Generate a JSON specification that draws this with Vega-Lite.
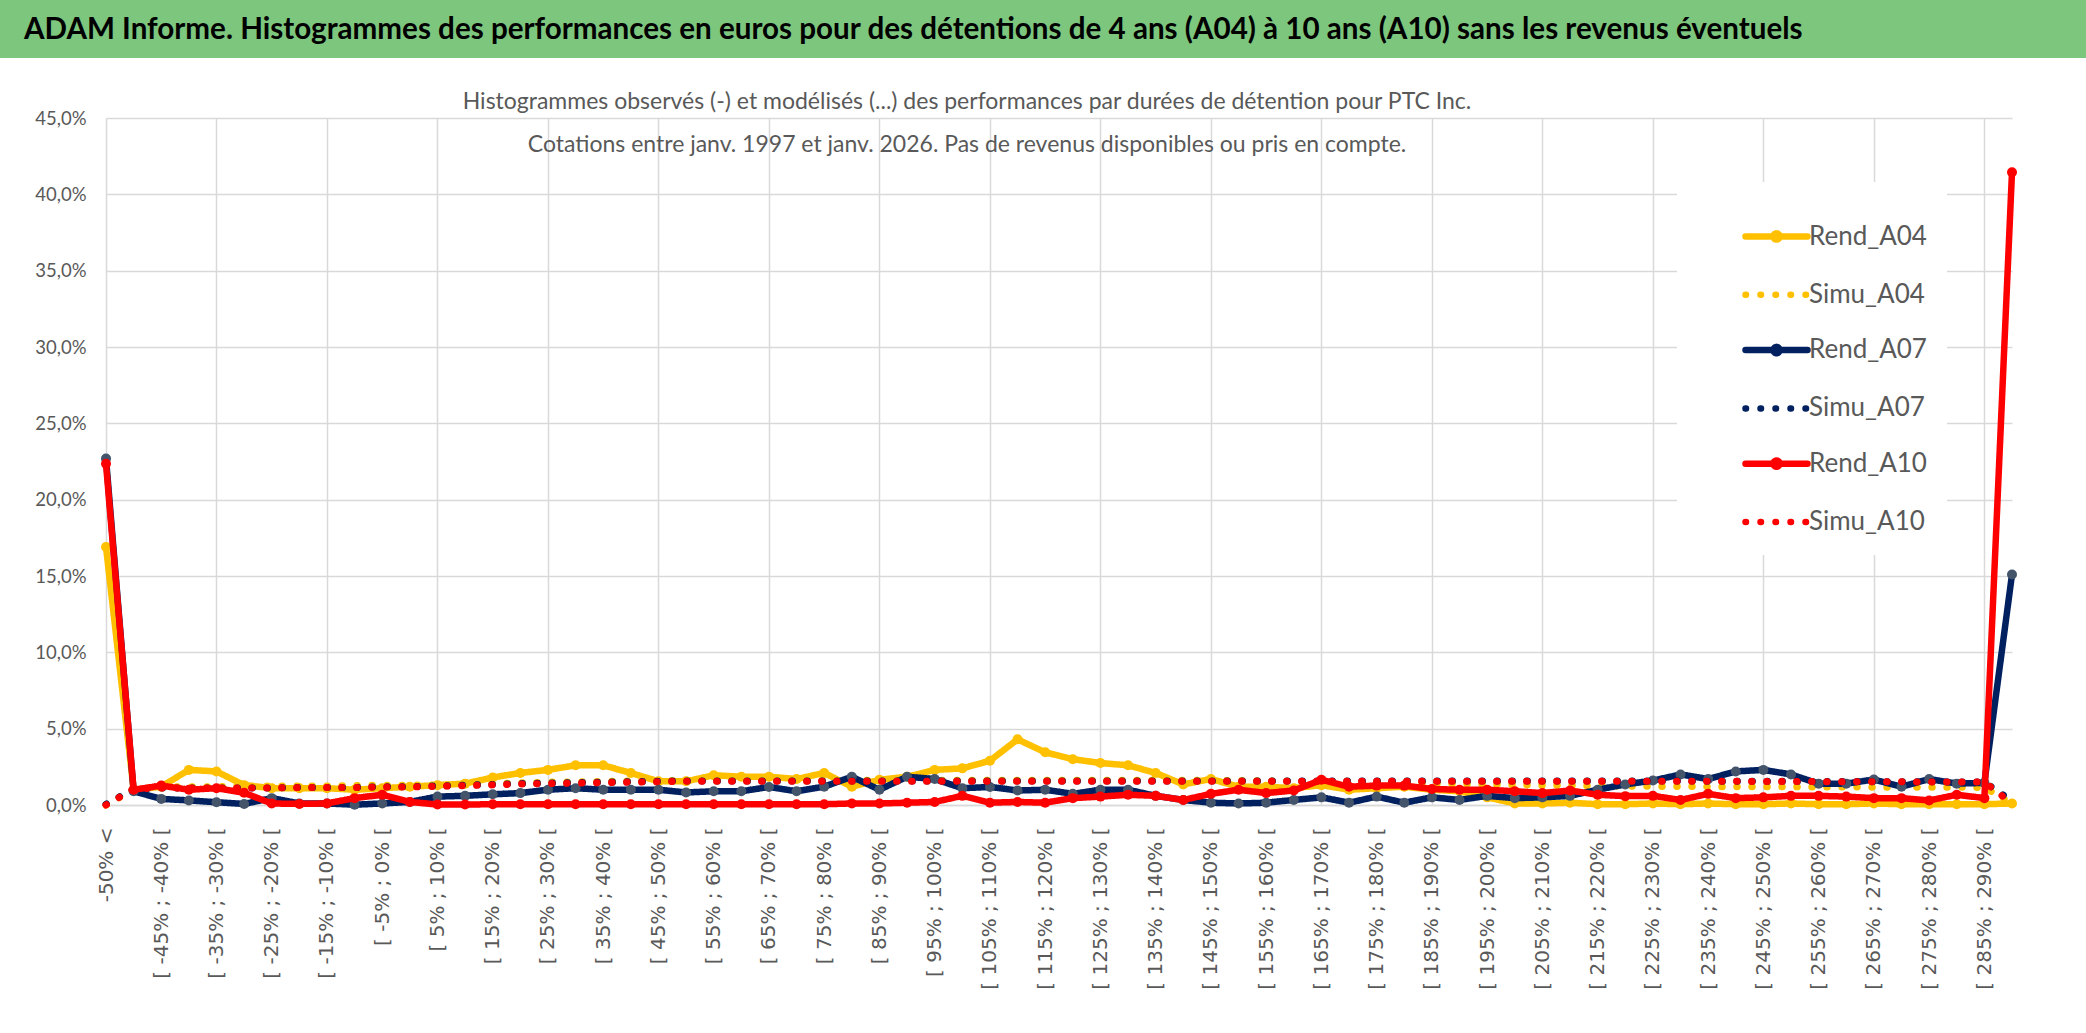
{
  "$schema": "https://vega.github.io/schema/vega-lite/v6.json",
  "padding": 0,
  "background": "white",
  "spacing": 33,
  "config": {"view": {"stroke": null}},
  "vconcat": [
    {
      "width": 2086,
      "height": 58,
      "view": {"fill": "#7DC67E", "stroke": null},
      "data": {"values": [{"t": "ADAM Informe. Histogrammes des performances en euros pour des détentions de 4 ans (A04) à 10 ans (A10) sans les revenus éventuels"}]},
      "mark": {"type": "text", "align": "left", "baseline": "middle", "dx": -1019, "dy": 1, "font": "Lato", "fontWeight": "bold", "fontSize": 29.6, "color": "#000000"},
      "encoding": {"text": {"field": "t"}}
    },
    {
      "spacing": 0,
      "hconcat": [
        {
          "width": 1,
          "height": 687,
          "data": {"values": []},
          "mark": "point"
        },
        {
          "width": 1906,
          "height": 687,
          "title": {
            "text": ["Histogrammes observés (-) et modélisés (...) des performances par durées de détention pour PTC Inc.", "Cotations entre janv. 1997 et janv. 2026. Pas de revenus disponibles ou pris en compte."],
            "font": "Lato",
            "fontSize": 23, "fontWeight": "normal", "color": "#595959", "lineHeight": 43,
            "anchor": "middle", "frame": "group", "dx": -92, "offset": -48
          },
          "data": {"values": [
            {"c": "-50% <", "Rend_A04": 16.9, "Simu_A04": 0.0, "Rend_A07": 22.7, "Simu_A07": 0.05, "Rend_A10": 22.35, "Simu_A10": 0.0},
            {"c": "[ -50% ; -45% [", "Rend_A04": 1.0, "Simu_A04": 1.0, "Rend_A07": 0.9, "Simu_A07": 1.05, "Rend_A10": 1.0, "Simu_A10": 1.05},
            {"c": "[ -45% ; -40% [", "Rend_A04": 1.2, "Simu_A04": 1.2, "Rend_A07": 0.4, "Simu_A07": 1.12, "Rend_A10": 1.27, "Simu_A10": 1.12},
            {"c": "[ -40% ; -35% [", "Rend_A04": 2.3, "Simu_A04": 1.2, "Rend_A07": 0.3, "Simu_A07": 1.12, "Rend_A10": 1.0, "Simu_A10": 1.12},
            {"c": "[ -35% ; -30% [", "Rend_A04": 2.2, "Simu_A04": 1.2, "Rend_A07": 0.18, "Simu_A07": 1.12, "Rend_A10": 1.1, "Simu_A10": 1.12},
            {"c": "[ -30% ; -25% [", "Rend_A04": 1.3, "Simu_A04": 1.25, "Rend_A07": 0.07, "Simu_A07": 1.12, "Rend_A10": 0.8, "Simu_A10": 1.12},
            {"c": "[ -25% ; -20% [", "Rend_A04": 1.1, "Simu_A04": 1.25, "Rend_A07": 0.45, "Simu_A07": 1.12, "Rend_A10": 0.1, "Simu_A10": 1.12},
            {"c": "[ -20% ; -15% [", "Rend_A04": 1.1, "Simu_A04": 1.25, "Rend_A07": 0.1, "Simu_A07": 1.15, "Rend_A10": 0.07, "Simu_A10": 1.14},
            {"c": "[ -15% ; -10% [", "Rend_A04": 1.1, "Simu_A04": 1.25, "Rend_A07": 0.1, "Simu_A07": 1.15, "Rend_A10": 0.1, "Simu_A10": 1.14},
            {"c": "[ -10% ; -5% [", "Rend_A04": 1.0, "Simu_A04": 1.28, "Rend_A07": 0.02, "Simu_A07": 1.15, "Rend_A10": 0.45, "Simu_A10": 1.14},
            {"c": "[ -5% ; 0% [", "Rend_A04": 1.1, "Simu_A04": 1.3, "Rend_A07": 0.1, "Simu_A07": 1.2, "Rend_A10": 0.67, "Simu_A10": 1.18},
            {"c": "[ 0% ; 5% [", "Rend_A04": 1.2, "Simu_A04": 1.3, "Rend_A07": 0.2, "Simu_A07": 1.2, "Rend_A10": 0.2, "Simu_A10": 1.18},
            {"c": "[ 5% ; 10% [", "Rend_A04": 1.3, "Simu_A04": 1.32, "Rend_A07": 0.55, "Simu_A07": 1.25, "Rend_A10": 0.03, "Simu_A10": 1.22},
            {"c": "[ 10% ; 15% [", "Rend_A04": 1.4, "Simu_A04": 1.35, "Rend_A07": 0.6, "Simu_A07": 1.3, "Rend_A10": 0.03, "Simu_A10": 1.27},
            {"c": "[ 15% ; 20% [", "Rend_A04": 1.8, "Simu_A04": 1.4, "Rend_A07": 0.7, "Simu_A07": 1.35, "Rend_A10": 0.05, "Simu_A10": 1.32},
            {"c": "[ 20% ; 25% [", "Rend_A04": 2.1, "Simu_A04": 1.45, "Rend_A07": 0.78, "Simu_A07": 1.4, "Rend_A10": 0.05, "Simu_A10": 1.37},
            {"c": "[ 25% ; 30% [", "Rend_A04": 2.3, "Simu_A04": 1.5, "Rend_A07": 1.0, "Simu_A07": 1.43, "Rend_A10": 0.05, "Simu_A10": 1.4},
            {"c": "[ 30% ; 35% [", "Rend_A04": 2.6, "Simu_A04": 1.52, "Rend_A07": 1.1, "Simu_A07": 1.46, "Rend_A10": 0.05, "Simu_A10": 1.43},
            {"c": "[ 35% ; 40% [", "Rend_A04": 2.6, "Simu_A04": 1.55, "Rend_A07": 1.0, "Simu_A07": 1.49, "Rend_A10": 0.05, "Simu_A10": 1.46},
            {"c": "[ 40% ; 45% [", "Rend_A04": 2.1, "Simu_A04": 1.57, "Rend_A07": 1.0, "Simu_A07": 1.52, "Rend_A10": 0.05, "Simu_A10": 1.49},
            {"c": "[ 45% ; 50% [", "Rend_A04": 1.55, "Simu_A04": 1.6, "Rend_A07": 1.0, "Simu_A07": 1.55, "Rend_A10": 0.05, "Simu_A10": 1.52},
            {"c": "[ 50% ; 55% [", "Rend_A04": 1.55, "Simu_A04": 1.62, "Rend_A07": 0.82, "Simu_A07": 1.58, "Rend_A10": 0.05, "Simu_A10": 1.56},
            {"c": "[ 55% ; 60% [", "Rend_A04": 1.95, "Simu_A04": 1.62, "Rend_A07": 0.9, "Simu_A07": 1.58, "Rend_A10": 0.05, "Simu_A10": 1.56},
            {"c": "[ 60% ; 65% [", "Rend_A04": 1.85, "Simu_A04": 1.62, "Rend_A07": 0.9, "Simu_A07": 1.58, "Rend_A10": 0.05, "Simu_A10": 1.56},
            {"c": "[ 65% ; 70% [", "Rend_A04": 1.85, "Simu_A04": 1.62, "Rend_A07": 1.18, "Simu_A07": 1.58, "Rend_A10": 0.05, "Simu_A10": 1.56},
            {"c": "[ 70% ; 75% [", "Rend_A04": 1.7, "Simu_A04": 1.62, "Rend_A07": 0.9, "Simu_A07": 1.58, "Rend_A10": 0.05, "Simu_A10": 1.56},
            {"c": "[ 75% ; 80% [", "Rend_A04": 2.1, "Simu_A04": 1.62, "Rend_A07": 1.2, "Simu_A07": 1.58, "Rend_A10": 0.05, "Simu_A10": 1.56},
            {"c": "[ 80% ; 85% [", "Rend_A04": 1.2, "Simu_A04": 1.62, "Rend_A07": 1.85, "Simu_A07": 1.58, "Rend_A10": 0.1, "Simu_A10": 1.56},
            {"c": "[ 85% ; 90% [", "Rend_A04": 1.65, "Simu_A04": 1.62, "Rend_A07": 1.0, "Simu_A07": 1.58, "Rend_A10": 0.1, "Simu_A10": 1.56},
            {"c": "[ 90% ; 95% [", "Rend_A04": 1.85, "Simu_A04": 1.62, "Rend_A07": 1.85, "Simu_A07": 1.58, "Rend_A10": 0.15, "Simu_A10": 1.56},
            {"c": "[ 95% ; 100% [", "Rend_A04": 2.3, "Simu_A04": 1.62, "Rend_A07": 1.7, "Simu_A07": 1.58, "Rend_A10": 0.2, "Simu_A10": 1.56},
            {"c": "[ 100% ; 105% [", "Rend_A04": 2.4, "Simu_A04": 1.62, "Rend_A07": 1.1, "Simu_A07": 1.58, "Rend_A10": 0.6, "Simu_A10": 1.56},
            {"c": "[ 105% ; 110% [", "Rend_A04": 2.9, "Simu_A04": 1.62, "Rend_A07": 1.18, "Simu_A07": 1.58, "Rend_A10": 0.15, "Simu_A10": 1.56},
            {"c": "[ 110% ; 115% [", "Rend_A04": 4.3, "Simu_A04": 1.62, "Rend_A07": 0.95, "Simu_A07": 1.58, "Rend_A10": 0.2, "Simu_A10": 1.56},
            {"c": "[ 115% ; 120% [", "Rend_A04": 3.45, "Simu_A04": 1.62, "Rend_A07": 1.0, "Simu_A07": 1.58, "Rend_A10": 0.15, "Simu_A10": 1.56},
            {"c": "[ 120% ; 125% [", "Rend_A04": 3.0, "Simu_A04": 1.62, "Rend_A07": 0.73, "Simu_A07": 1.58, "Rend_A10": 0.45, "Simu_A10": 1.56},
            {"c": "[ 125% ; 130% [", "Rend_A04": 2.75, "Simu_A04": 1.62, "Rend_A07": 1.0, "Simu_A07": 1.58, "Rend_A10": 0.55, "Simu_A10": 1.56},
            {"c": "[ 130% ; 135% [", "Rend_A04": 2.6, "Simu_A04": 1.62, "Rend_A07": 1.0, "Simu_A07": 1.58, "Rend_A10": 0.67, "Simu_A10": 1.56},
            {"c": "[ 135% ; 140% [", "Rend_A04": 2.1, "Simu_A04": 1.62, "Rend_A07": 0.6, "Simu_A07": 1.58, "Rend_A10": 0.6, "Simu_A10": 1.56},
            {"c": "[ 140% ; 145% [", "Rend_A04": 1.35, "Simu_A04": 1.62, "Rend_A07": 0.33, "Simu_A07": 1.58, "Rend_A10": 0.33, "Simu_A10": 1.56},
            {"c": "[ 145% ; 150% [", "Rend_A04": 1.7, "Simu_A04": 1.62, "Rend_A07": 0.15, "Simu_A07": 1.58, "Rend_A10": 0.73, "Simu_A10": 1.56},
            {"c": "[ 150% ; 155% [", "Rend_A04": 1.2, "Simu_A04": 1.6, "Rend_A07": 0.1, "Simu_A07": 1.58, "Rend_A10": 1.0, "Simu_A10": 1.56},
            {"c": "[ 155% ; 160% [", "Rend_A04": 1.2, "Simu_A04": 1.58, "Rend_A07": 0.15, "Simu_A07": 1.58, "Rend_A10": 0.78, "Simu_A10": 1.56},
            {"c": "[ 160% ; 165% [", "Rend_A04": 1.1, "Simu_A04": 1.55, "Rend_A07": 0.33, "Simu_A07": 1.58, "Rend_A10": 0.95, "Simu_A10": 1.56},
            {"c": "[ 165% ; 170% [", "Rend_A04": 1.3, "Simu_A04": 1.52, "Rend_A07": 0.5, "Simu_A07": 1.58, "Rend_A10": 1.65, "Simu_A10": 1.56},
            {"c": "[ 170% ; 175% [", "Rend_A04": 1.0, "Simu_A04": 1.5, "Rend_A07": 0.15, "Simu_A07": 1.58, "Rend_A10": 1.2, "Simu_A10": 1.56},
            {"c": "[ 175% ; 180% [", "Rend_A04": 1.1, "Simu_A04": 1.47, "Rend_A07": 0.55, "Simu_A07": 1.58, "Rend_A10": 1.27, "Simu_A10": 1.56},
            {"c": "[ 180% ; 185% [", "Rend_A04": 1.2, "Simu_A04": 1.44, "Rend_A07": 0.15, "Simu_A07": 1.58, "Rend_A10": 1.27, "Simu_A10": 1.56},
            {"c": "[ 185% ; 190% [", "Rend_A04": 1.0, "Simu_A04": 1.41, "Rend_A07": 0.5, "Simu_A07": 1.58, "Rend_A10": 1.05, "Simu_A10": 1.56},
            {"c": "[ 190% ; 195% [", "Rend_A04": 0.9, "Simu_A04": 1.38, "Rend_A07": 0.33, "Simu_A07": 1.58, "Rend_A10": 1.0, "Simu_A10": 1.56},
            {"c": "[ 195% ; 200% [", "Rend_A04": 0.5, "Simu_A04": 1.35, "Rend_A07": 0.6, "Simu_A07": 1.58, "Rend_A10": 1.0, "Simu_A10": 1.56},
            {"c": "[ 200% ; 205% [", "Rend_A04": 0.1, "Simu_A04": 1.32, "Rend_A07": 0.45, "Simu_A07": 1.58, "Rend_A10": 0.9, "Simu_A10": 1.56},
            {"c": "[ 205% ; 210% [", "Rend_A04": 0.1, "Simu_A04": 1.3, "Rend_A07": 0.5, "Simu_A07": 1.58, "Rend_A10": 0.78, "Simu_A10": 1.56},
            {"c": "[ 210% ; 215% [", "Rend_A04": 0.15, "Simu_A04": 1.28, "Rend_A07": 0.6, "Simu_A07": 1.58, "Rend_A10": 0.95, "Simu_A10": 1.56},
            {"c": "[ 215% ; 220% [", "Rend_A04": 0.05, "Simu_A04": 1.26, "Rend_A07": 1.0, "Simu_A07": 1.58, "Rend_A10": 0.67, "Simu_A10": 1.56},
            {"c": "[ 220% ; 225% [", "Rend_A04": 0.05, "Simu_A04": 1.24, "Rend_A07": 1.35, "Simu_A07": 1.58, "Rend_A10": 0.58, "Simu_A10": 1.56},
            {"c": "[ 225% ; 230% [", "Rend_A04": 0.1, "Simu_A04": 1.22, "Rend_A07": 1.6, "Simu_A07": 1.58, "Rend_A10": 0.6, "Simu_A10": 1.56},
            {"c": "[ 230% ; 235% [", "Rend_A04": 0.05, "Simu_A04": 1.21, "Rend_A07": 2.0, "Simu_A07": 1.57, "Rend_A10": 0.33, "Simu_A10": 1.56},
            {"c": "[ 235% ; 240% [", "Rend_A04": 0.1, "Simu_A04": 1.2, "Rend_A07": 1.7, "Simu_A07": 1.56, "Rend_A10": 0.73, "Simu_A10": 1.55},
            {"c": "[ 240% ; 245% [", "Rend_A04": 0.05, "Simu_A04": 1.2, "Rend_A07": 2.2, "Simu_A07": 1.56, "Rend_A10": 0.45, "Simu_A10": 1.55},
            {"c": "[ 245% ; 250% [", "Rend_A04": 0.05, "Simu_A04": 1.19, "Rend_A07": 2.3, "Simu_A07": 1.55, "Rend_A10": 0.5, "Simu_A10": 1.54},
            {"c": "[ 250% ; 255% [", "Rend_A04": 0.1, "Simu_A04": 1.19, "Rend_A07": 2.0, "Simu_A07": 1.55, "Rend_A10": 0.6, "Simu_A10": 1.54},
            {"c": "[ 255% ; 260% [", "Rend_A04": 0.05, "Simu_A04": 1.18, "Rend_A07": 1.4, "Simu_A07": 1.54, "Rend_A10": 0.6, "Simu_A10": 1.53},
            {"c": "[ 260% ; 265% [", "Rend_A04": 0.05, "Simu_A04": 1.18, "Rend_A07": 1.4, "Simu_A07": 1.54, "Rend_A10": 0.55, "Simu_A10": 1.53},
            {"c": "[ 265% ; 270% [", "Rend_A04": 0.1, "Simu_A04": 1.17, "Rend_A07": 1.67, "Simu_A07": 1.53, "Rend_A10": 0.45, "Simu_A10": 1.52},
            {"c": "[ 270% ; 275% [", "Rend_A04": 0.05, "Simu_A04": 1.17, "Rend_A07": 1.2, "Simu_A07": 1.52, "Rend_A10": 0.45, "Simu_A10": 1.52},
            {"c": "[ 275% ; 280% [", "Rend_A04": 0.05, "Simu_A04": 1.16, "Rend_A07": 1.7, "Simu_A07": 1.52, "Rend_A10": 0.3, "Simu_A10": 1.51},
            {"c": "[ 280% ; 285% [", "Rend_A04": 0.05, "Simu_A04": 1.16, "Rend_A07": 1.4, "Simu_A07": 1.51, "Rend_A10": 0.67, "Simu_A10": 1.5},
            {"c": "[ 285% ; 290% [", "Rend_A04": 0.05, "Simu_A04": 1.15, "Rend_A07": 1.45, "Simu_A07": 1.5, "Rend_A10": 0.45, "Simu_A10": 1.5},
            {"c": "> 290%", "Rend_A04": 0.1, "Simu_A04": 0.1, "Rend_A07": 15.1, "Simu_A07": 0.25, "Rend_A10": 41.45, "Simu_A10": 0.1}
          ]},
          "transform": [{"fold": ["Rend_A04", "Simu_A04", "Rend_A07", "Simu_A07", "Rend_A10", "Simu_A10"], "as": ["serie", "val"]}],
          "encoding": {
            "x": {
              "field": "c", "type": "ordinal",
              "sort": ["-50% <", "[ -50% ; -45% [", "[ -45% ; -40% [", "[ -40% ; -35% [", "[ -35% ; -30% [", "[ -30% ; -25% [", "[ -25% ; -20% [", "[ -20% ; -15% [", "[ -15% ; -10% [", "[ -10% ; -5% [", "[ -5% ; 0% [", "[ 0% ; 5% [", "[ 5% ; 10% [", "[ 10% ; 15% [", "[ 15% ; 20% [", "[ 20% ; 25% [", "[ 25% ; 30% [", "[ 30% ; 35% [", "[ 35% ; 40% [", "[ 40% ; 45% [", "[ 45% ; 50% [", "[ 50% ; 55% [", "[ 55% ; 60% [", "[ 60% ; 65% [", "[ 65% ; 70% [", "[ 70% ; 75% [", "[ 75% ; 80% [", "[ 80% ; 85% [", "[ 85% ; 90% [", "[ 90% ; 95% [", "[ 95% ; 100% [", "[ 100% ; 105% [", "[ 105% ; 110% [", "[ 110% ; 115% [", "[ 115% ; 120% [", "[ 120% ; 125% [", "[ 125% ; 130% [", "[ 130% ; 135% [", "[ 135% ; 140% [", "[ 140% ; 145% [", "[ 145% ; 150% [", "[ 150% ; 155% [", "[ 155% ; 160% [", "[ 160% ; 165% [", "[ 165% ; 170% [", "[ 170% ; 175% [", "[ 175% ; 180% [", "[ 180% ; 185% [", "[ 185% ; 190% [", "[ 190% ; 195% [", "[ 195% ; 200% [", "[ 200% ; 205% [", "[ 205% ; 210% [", "[ 210% ; 215% [", "[ 215% ; 220% [", "[ 220% ; 225% [", "[ 225% ; 230% [", "[ 230% ; 235% [", "[ 235% ; 240% [", "[ 240% ; 245% [", "[ 245% ; 250% [", "[ 250% ; 255% [", "[ 255% ; 260% [", "[ 260% ; 265% [", "[ 265% ; 270% [", "[ 270% ; 275% [", "[ 275% ; 280% [", "[ 280% ; 285% [", "[ 285% ; 290% [", "> 290%"],
              "scale": {"type": "point", "padding": 0},
              "axis": {
                "title": null,
                "values": ["-50% <", "[ -45% ; -40% [", "[ -35% ; -30% [", "[ -25% ; -20% [", "[ -15% ; -10% [", "[ -5% ; 0% [", "[ 5% ; 10% [", "[ 15% ; 20% [", "[ 25% ; 30% [", "[ 35% ; 40% [", "[ 45% ; 50% [", "[ 55% ; 60% [", "[ 65% ; 70% [", "[ 75% ; 80% [", "[ 85% ; 90% [", "[ 95% ; 100% [", "[ 105% ; 110% [", "[ 115% ; 120% [", "[ 125% ; 130% [", "[ 135% ; 140% [", "[ 145% ; 150% [", "[ 155% ; 160% [", "[ 165% ; 170% [", "[ 175% ; 180% [", "[ 185% ; 190% [", "[ 195% ; 200% [", "[ 205% ; 210% [", "[ 215% ; 220% [", "[ 225% ; 230% [", "[ 235% ; 240% [", "[ 245% ; 250% [", "[ 255% ; 260% [", "[ 265% ; 270% [", "[ 275% ; 280% [", "[ 285% ; 290% ["],
                "labelAngle": 270,
                "labelFont": "DejaVu Sans",
                "labelFontSize": 20,
                "labelColor": "#595959",
                "labelPadding": 22,
                "labelLimit": 300,
                "labelOverlap": false,
                "ticks": false,
                "domain": true,
                "domainColor": "#D9D9D9",
                "domainWidth": 1.5,
                "grid": true,
                "gridWidth": 1.5,
                "gridColor": {"condition": {"test": "round(datum.index * 34) % 2 === 0", "value": "#D9D9D9"}, "value": "rgba(0,0,0,0)"}
              }
            },
            "y": {
              "field": "val", "type": "quantitative",
              "scale": {"domain": [0, 45], "nice": false},
              "axis": {
                "title": null,
                "values": [0, 5, 10, 15, 20, 25, 30, 35, 40, 45],
                "labelExpr": "replace(format(datum.value, '.1f'), '.', ',') + '%'",
                "labelFont": "Lato",
                "labelFontSize": 18.5,
                "labelColor": "#595959",
                "labelPadding": 20,
                "ticks": false,
                "domain": false,
                "gridColor": "#D9D9D9",
                "gridWidth": 1.5,
                "minExtent": 105,
                "maxExtent": 105
              }
            },
            "color": {
              "field": "serie", "type": "nominal",
              "scale": {"domain": ["Rend_A04", "Simu_A04", "Rend_A07", "Simu_A07", "Rend_A10", "Simu_A10"], "range": ["#FFC000", "#FFC000", "#002060", "#002060", "#FF0000", "#FF0000"]},
              "legend": {
                "title": null,
                "orient": "none",
                "legendX": 1677,
                "legendY": 182,
                "fillColor": "white",
                "padding": 20,
                "symbolOffset": 45,
                "symbolSize": 3844,
                "symbolStrokeWidth": 6.5,
                "labelFont": "Lato",
                "labelFontSize": 26,
                "labelColor": "#595959",
                "labelOffset": -2,
                "rowPadding": 7.3,
                "encode": {
                  "symbols": {
                    "update": {
                      "shape": [{"test": "indexof(datum.value, 'Rend') === 0", "value": "M-1,0L1,0M0.1,0A0.1,0.1,0,1,1,-0.1,0A0.1,0.1,0,1,1,0.1,0Z"}, {"value": "M-1,0L1,0"}],
                      "fill": [{"test": "datum.value === 'Rend_A04'", "value": "#FFC000"}, {"test": "datum.value === 'Rend_A07'", "value": "#44546A"}, {"test": "datum.value === 'Rend_A10'", "value": "#FF0000"}, {"value": "transparent"}],
                      "strokeCap": {"value": "round"}
                    }
                  }
                }
              }
            }
          },
          "layer": [
            {"transform": [{"filter": "datum.serie === 'Rend_A04'"}], "mark": {"type": "line", "strokeWidth": 6.5, "strokeJoin": "round", "strokeCap": "round"}, "encoding": {"strokeDash": {"field": "serie", "type": "nominal", "scale": {"domain": ["Rend_A04", "Simu_A04", "Rend_A07", "Simu_A07", "Rend_A10", "Simu_A10"], "range": [[1, 0], [0.5, 14.5], [1, 0], [0.5, 14.5], [1, 0], [0.5, 14.5]]}}}},
            {"transform": [{"filter": "datum.serie === 'Rend_A04'"}], "mark": {"type": "point", "filled": true, "opacity": 1, "size": 100, "shape": "circle"}},
            {"transform": [{"filter": "datum.serie === 'Simu_A04'"}], "mark": {"type": "line", "strokeWidth": 7, "strokeCap": "round"}, "encoding": {"strokeDash": {"field": "serie", "type": "nominal"}}},
            {"transform": [{"filter": "datum.serie === 'Rend_A07'"}], "mark": {"type": "line", "strokeWidth": 6.5, "strokeJoin": "round", "strokeCap": "round"}, "encoding": {"strokeDash": {"field": "serie", "type": "nominal"}}},
            {"transform": [{"filter": "datum.serie === 'Rend_A07'"}], "mark": {"type": "point", "filled": true, "opacity": 1, "size": 100, "shape": "circle"}, "encoding": {"color": {"value": "#44546A"}}},
            {"transform": [{"filter": "datum.serie === 'Simu_A07'"}], "mark": {"type": "line", "strokeWidth": 7, "strokeCap": "round"}, "encoding": {"strokeDash": {"field": "serie", "type": "nominal"}}},
            {"transform": [{"filter": "datum.serie === 'Rend_A10'"}], "mark": {"type": "line", "strokeWidth": 6.5, "strokeJoin": "round", "strokeCap": "round"}, "encoding": {"strokeDash": {"field": "serie", "type": "nominal"}}},
            {"transform": [{"filter": "datum.serie === 'Rend_A10'"}], "mark": {"type": "point", "filled": true, "opacity": 1, "size": 100, "shape": "circle"}},
            {"transform": [{"filter": "datum.serie === 'Simu_A10'"}], "mark": {"type": "line", "strokeWidth": 7, "strokeCap": "round"}, "encoding": {"strokeDash": {"field": "serie", "type": "nominal"}}}
          ]
        }
      ]
    }
  ]
}
